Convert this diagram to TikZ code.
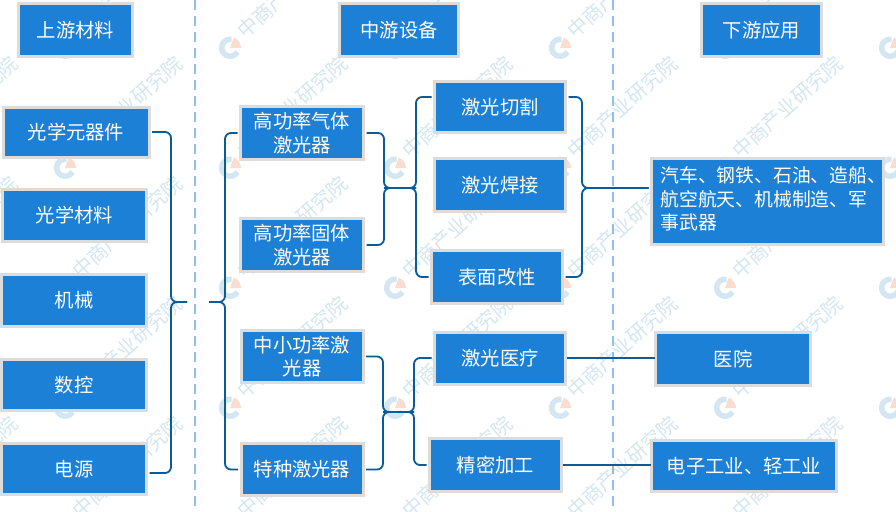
\documentclass[tikz,border=0pt]{standalone}
\usepackage{fontspec}
\setmainfont{Noto Sans CJK SC}
\usepackage{tikz}
\usetikzlibrary{calc}

\definecolor{boxblue}{HTML}{1C80D6}
\definecolor{boxedge}{HTML}{DCDCDC}
\definecolor{linkblue}{HTML}{0B5A9A}
\definecolor{dashblue}{HTML}{8FBDF0}
\definecolor{wmblue}{HTML}{D3E6F2}
\definecolor{wmorange}{HTML}{F9DDD0}

\tikzset{
    block/.style={draw=boxedge, line width=3pt, fill=boxblue, text=white, inner sep=0pt, outer sep=3pt,
        align=center, font=\fontsize{19.3}{23.5}\selectfont},
    link/.style={draw=linkblue, line width=1.8pt, rounded corners=6pt},
    wire/.style={draw=linkblue, line width=2pt, shorten <=-2pt, shorten >=-2pt},
    divider/.style={draw=dashblue, line width=1.8pt, dash pattern=on 10pt off 6pt},
    wmtext/.style={text=wmblue, anchor=west, rotate=42, inner sep=0pt, font=\fontsize{20}{20}\selectfont}
}

\begin{document}
\begin{tikzpicture}[x=1pt, y=-1pt]
    \useasboundingbox (0, 0) rectangle (896, 511);

    % watermark
    \begin{scope}
        \clip (0, 0) rectangle (896, 511);
        \foreach \wx in {-100, 65, 230, 395, 560, 725, 890} {
            \foreach \wy in {-72, 48, 168, 288, 408, 528} {
                \draw[wmblue, line width=5.5pt] ($(\wx, \wy)+(7.5, 4)$) arc[start angle=-30, end angle=-280, radius=8.5pt];
                \fill[wmorange] (\wx, \wy) -- ++(0:11pt) arc[start angle=0, end angle=70, radius=11pt] -- cycle;
                \node[wmtext] (wm\wx\wy) at ($(\wx, \wy)+(10, -14)$) {中商产业研究院};
            }
        }
    \end{scope}

    % dashed dividers
    \coordinate (d1t) at (195, 0);
    \coordinate (d1b) at (195, 511);
    \coordinate (d2t) at (613, 0);
    \coordinate (d2b) at (613, 511);
    \draw[divider] (d1t) -- (d1b);
    \draw[divider] (d2t) -- (d2b);

    % headings
    \node[block, minimum width=114pt, minimum height=53pt] (upstream) at (75.5, 30) {上游材料};
    \node[block, minimum width=119pt, minimum height=53pt] (midstream) at (399, 30) {中游设备};
    \node[block, minimum width=120pt, minimum height=53pt] (downstream) at (761.5, 30) {下游应用};

    % materials
    \node[block, minimum width=146pt, minimum height=50pt] (optics) at (76, 132) {光学元器件};
    \node[block, minimum width=144pt, minimum height=52pt] (glass) at (74.5, 215.5) {\raisebox{-2pt}{光学材料}};
    \node[block, minimum width=145pt, minimum height=52pt] (mech) at (74, 300.5) {机械};
    \node[block, minimum width=145pt, minimum height=51pt] (cnc) at (74, 385) {数控};
    \node[block, minimum width=145pt, minimum height=51pt] (power) at (74, 469) {电源};

    % lasers
    \node[block, minimum width=123pt, minimum height=53pt] (gas) at (302, 133) {高功率气体\\激光器};
    \node[block, minimum width=123pt, minimum height=53pt] (solid) at (302, 245) {高功率固体\\激光器};
    \node[block, minimum width=122pt, minimum height=52pt] (small) at (302, 356.5) {中小功率激\\光器};
    \node[block, minimum width=122pt, minimum height=52pt] (special) at (302, 469.5) {特种激光器};

    % processes
    \node[block, minimum width=131pt, minimum height=51pt] (cut) at (500, 107) {激光切割};
    \node[block, minimum width=131pt, minimum height=53pt] (weld) at (500, 185) {激光焊接};
    \node[block, minimum width=131pt, minimum height=53pt] (surface) at (497, 277) {表面改性};
    \node[block, minimum width=131pt, minimum height=52pt] (medical) at (500, 358) {激光医疗};
    \node[block, minimum width=132pt, minimum height=53pt] (fine) at (495.5, 465) {精密加工};

    % applications
    \node[block, minimum width=232pt, minimum height=86pt, font=\fontsize{18.8}{23.5}\selectfont] (auto) at (767.5, 201.5)
        {\raisebox{-2pt}{\makebox[214pt][l]{\begin{tabular}{@{}l@{}}汽车、钢铁、石油、造船、\\航空航天、机械制造、军\\事武器\end{tabular}}}};
    \node[block, minimum width=155pt, minimum height=53pt] (hospital) at (733, 359) {医院};
    \node[block, minimum width=185pt, minimum height=51pt] (light) at (744, 466) {电子工业、轻工业};

    % bracket joints
    \coordinate (j1) at (171, 302);
    \coordinate (t1) at (187, 302);
    \coordinate (j2) at (225, 302);
    \coordinate (t2) at (209, 302);
    \coordinate (j3) at (384, 188);
    \coordinate (j4) at (416, 188);
    \coordinate (j5) at (582, 188);
    \coordinate (j6) at (383, 412);
    \coordinate (j7) at (414, 412);

    % materials bracket
    \draw[link] (optics.east) -| (j1) -- (t1);
    \draw[link] ($(power.east)+(0, 4)$) -| (j1) -- (t1);

    % lasers bracket
    \draw[link] (gas.west) -| (j2) -- (t2);
    \draw[link] (special.west) -| (j2) -- (t2);

    % high power group
    \draw[link] (gas.east) -| (j3) -- (j4);
    \draw[link] (solid.east) -| (j3) -- (j4);
    \draw[link] ($(cut.west)+(0, -10)$) -| (j4) -- (j3);
    \draw[link] (surface.west) -| (j4) -- (j3);
    \draw[link] ($(cut.east)+(0, -10)$) -| (j5) -- (j5 -| auto.west);
    \draw[link] (surface.east) -| (j5) -- (j5 -| auto.west);

    % low power group
    \draw[link] (small.east) -| (j6) -- (j7);
    \draw[link] (special.east) -| (j6) -- (j7);
    \draw[link] (medical.west) -| (j7) -- (j6);
    \draw[link] (fine.west) -| (j7) -- (j6);
    \draw[wire] (medical.east) -- (medical.east -| hospital.west);
    \draw[wire] (fine.east) -- (fine.east -| light.west);
\end{tikzpicture}
\end{document}
